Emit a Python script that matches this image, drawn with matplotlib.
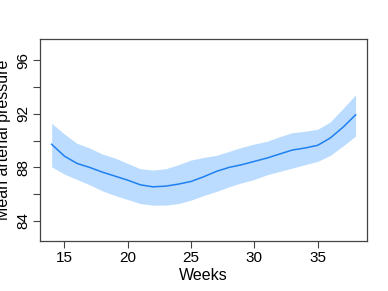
import matplotlib
matplotlib.use("Agg")
import matplotlib.pyplot as plt
import numpy as np

weeks = [14, 15, 16, 17, 18, 19, 20, 21, 22, 23, 24, 25, 26, 27, 28, 29, 30, 31, 32, 33, 34, 35, 36, 37, 38]
mean_map = [89.73, 88.85, 88.3, 88.0, 87.65, 87.35, 87.05, 86.7, 86.55, 86.6, 86.75, 86.95, 87.3, 87.7,
            88.0, 88.2, 88.45, 88.7, 89.0, 89.3, 89.45, 89.65, 90.2, 91.0, 91.93]
upper = [91.3, 90.5, 89.8, 89.45, 89.0, 88.7, 88.3, 87.9, 87.8, 87.9, 88.2, 88.55, 88.75, 88.9,
         89.2, 89.5, 89.75, 89.95, 90.3, 90.6, 90.7, 90.85, 91.4, 92.4, 93.43]
lower = [88.05, 87.5, 87.1, 86.7, 86.25, 85.9, 85.6, 85.3, 85.18, 85.18, 85.3, 85.55, 85.9, 86.2,
         86.55, 86.85, 87.1, 87.45, 87.7, 87.95, 88.2, 88.45, 88.9, 89.6, 90.35]
xticks = [15, 20, 25, 30, 35]
yticks_major = [84, 88, 92, 96]
yticks_minor = [86, 90, 94]

plt.rcParams['font.family'] = ['Liberation Sans', 'DejaVu Sans']

fig = plt.figure(figsize=(3.88, 2.91), dpi=100)
ax = fig.add_axes([40/388, 50/291, 327/388, 202/291])

ax.fill_between(weeks, lower, upper, color='#bbdcfe', linewidth=0)
ax.plot(weeks, mean_map, color='#1f80f0', linewidth=1.1)

ax.set_xlim(13.08, 38.9)
ax.set_ylim(82.5, 97.6)
ax.set_xticks(xticks)
ax.set_yticks(yticks_major)
ax.set_yticks(yticks_minor, minor=True)
ax.tick_params(axis='both', which='both', direction='out', length=5, width=0.8, color='#444444', labelsize=11)
ax.tick_params(axis='y', which='minor', length=5)
for lab in ax.get_yticklabels():
    lab.set_rotation(90)
    lab.set_va('center')
ax.tick_params(axis='x', pad=2)
ax.tick_params(axis='y', pad=2)
for s in ax.spines.values():
    s.set_color('#444444')
    s.set_linewidth(0.9)

ax.set_xlabel('Weeks', fontsize=11.5, labelpad=2)
ax.set_ylabel('Mean arterial pressure', fontsize=11.5, labelpad=4)

fig.savefig('out.png', dpi=100)
